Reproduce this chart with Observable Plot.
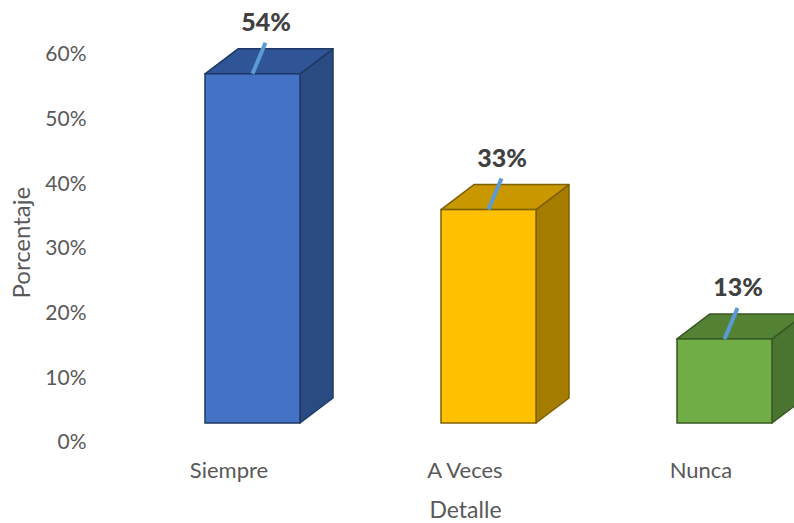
<!DOCTYPE html>
<html>
<head>
<meta charset="utf-8">
<script src="https://cdn.jsdelivr.net/npm/d3@7"></script>
<script src="https://cdn.jsdelivr.net/npm/@observablehq/plot@0.6"></script>
<style>
  html, body { margin: 0; padding: 0; background: #fff; }
  #chart { width: 794px; height: 523px; overflow: hidden; }
</style>
</head>
<body>
<div id="chart"></div>
<script>
const categories = ["Siempre", "A Veces", "Nunca"];
const values = [0.54, 0.33, 0.13];
const valueLabels = ["54%", "33%", "13%"];
const yTicks = [0, 0.1, 0.2, 0.3, 0.4, 0.5, 0.6];
const yTickLabels = ["0%", "10%", "20%", "30%", "40%", "50%", "60%"];
const frontColors = ["#4472C4", "#FFC000", "#70AD47"];
const topColors = ["#2F5597", "#C99700", "#548235"];
const sideColors = ["#2A4A82", "#A37C00", "#4A7530"];
const edgeColors = ["#1F3864", "#7F6000", "#385723"];

const bars = categories.map((c, i) => ({
  cat: c, value: values[i], label: valueLabels[i],
  front: frontColors[i], top: topColors[i], side: sideColors[i], edge: edgeColors[i]
}));
const ticks = yTicks.map((t, i) => ({t, label: yTickLabels[i]}));

const DEPTH_X = 33, DEPTH_Y = -25;

function faces3d(index, scales) {
  const x = scales.x, y = scales.y;
  const bw = x.bandwidth();
  const g = d3.create("svg:g");
  bars.forEach(b => {
    const x0 = x(b.cat), x1 = x0 + bw;
    const y0 = y(0), y1 = y(b.value);
    g.append("path")
      .attr("d", `M${x1},${y0}L${x1},${y1}L${x1 + DEPTH_X},${y1 + DEPTH_Y}L${x1 + DEPTH_X},${y0 + DEPTH_Y}Z`)
      .attr("fill", b.side).attr("stroke", b.edge).attr("stroke-width", 1.5).attr("stroke-linejoin", "round");
    g.append("path")
      .attr("d", `M${x0},${y1}L${x1},${y1}L${x1 + DEPTH_X},${y1 + DEPTH_Y}L${x0 + DEPTH_X},${y1 + DEPTH_Y}Z`)
      .attr("fill", b.top).attr("stroke", b.edge).attr("stroke-width", 1.5).attr("stroke-linejoin", "round");
  });
  return g.node();
}

function leaders(index, scales) {
  const x = scales.x, y = scales.y;
  const bw = x.bandwidth();
  const g = d3.create("svg:g");
  bars.forEach(b => {
    const cx = x(b.cat) + bw / 2, cy = y(b.value);
    g.append("line")
      .attr("x1", cx).attr("y1", cy)
      .attr("x2", cx + 13).attr("y2", cy - 31)
      .attr("stroke", "#5B9BD5").attr("stroke-width", 4);
  });
  return g.node();
}

const chart = Plot.plot({
  width: 794,
  height: 523,
  marginLeft: 88,
  marginRight: 0,
  marginTop: 35,
  marginBottom: 100,
  style: {fontFamily: "Lato, 'Open Sans', sans-serif", fontSize: "21px", color: "#595959", background: "#fff", overflow: "hidden"},
  x: {domain: categories, range: [133.5, 843.5], paddingInner: 0.598, paddingOuter: 0.299, axis: null},
  y: {domain: [0, 0.6], axis: null},
  marks: [
    Plot.text(ticks, {y: "t", text: "label", frameAnchor: "left", textAnchor: "end", dx: -2, dy: 19, fill: "#595959"}),
    Plot.text(categories, {x: d => d, text: d => d, frameAnchor: "bottom", dx: -24, dy: 54, fill: "#595959", fontSize: 22}),
    Plot.text(["Detalle"], {text: d => d, frameAnchor: "bottom", dx: 24, dy: 94, fill: "#595959", fontSize: 23}),
    Plot.text(["Porcentaje"], {text: d => d, frameAnchor: "left", rotate: -90, dx: -66, dy: 69, fill: "#595959", fontSize: 24}),
    faces3d,
    Plot.barY(bars, {x: "cat", y: "value", fill: "front", stroke: "edge", strokeWidth: 1.5}),
    leaders,
    Plot.text(bars, {x: "cat", y: "value", text: "label", dx: 13, dy: -51, fill: "#404040", fontWeight: 900, fontSize: 25})
  ]
});
document.getElementById("chart").appendChild(chart);
</script>
</body>
</html>
